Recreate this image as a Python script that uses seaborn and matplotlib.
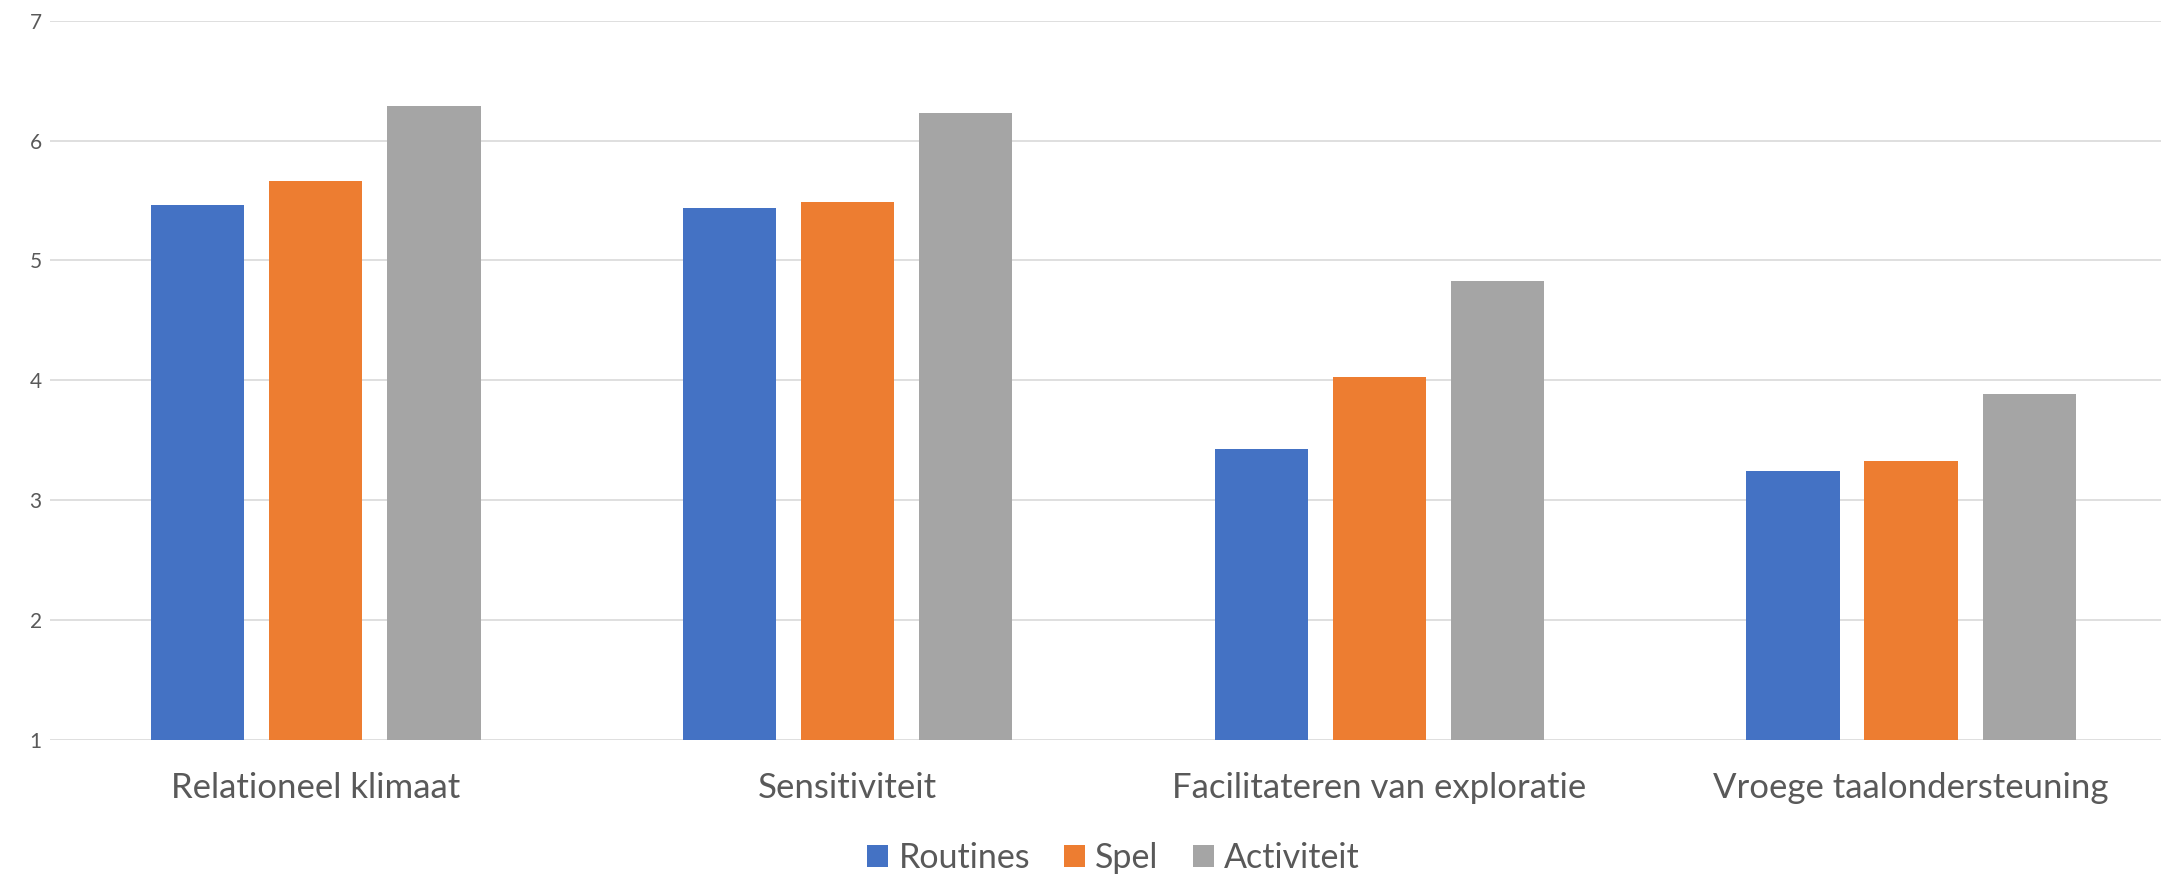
import matplotlib
matplotlib.use("Agg")
import matplotlib.pyplot as plt
import seaborn as sns
import pandas as pd

categories = ["Relationeel klimaat", "Sensitiviteit", "Facilitateren van exploratie", "Vroege taalondersteuning"]
series_names = ["Routines", "Spel", "Activiteit"]
routines = [5.46, 5.44, 3.43, 3.24]
spel = [5.66, 5.49, 4.03, 3.33]
activiteit = [6.29, 6.23, 4.83, 3.89]
y_ticks = [1, 2, 3, 4, 5, 6, 7]

colors = ["#4472C4", "#ED7D31", "#A5A5A5"]

rows = []
for name, vals in zip(series_names, [routines, spel, activiteit]):
    for c, v in zip(categories, vals):
        rows.append({"cat": c, "serie": name, "val": v})
df = pd.DataFrame(rows)

sns.set_theme(style="white")
plt.rcParams["font.family"] = ["Lato", "DejaVu Sans"]

W, H = 2161, 877
fig = plt.figure(figsize=(W / 100, H / 100), dpi=100)
ax_left = 50 / W
ax_bottom = (H - 740) / H
ax_top = (H - 20.7) / H
ax = fig.add_axes([ax_left, ax_bottom, 1 - ax_left, ax_top - ax_bottom])

sns.barplot(data=df, x="cat", y="val", hue="serie", order=categories,
            hue_order=series_names, palette=colors, width=0.666, gap=0.21,
            ax=ax, legend=True, saturation=1, linewidth=0)

ax.set_ylim(1, 7)
ax.set_yticks(y_ticks)
ax.set_xlim(-0.5, 3.47)
ax.set_xlabel("")
ax.set_ylabel("")
ax.grid(axis="y", color="#D9D9D9", linewidth=1.2)
ax.set_axisbelow(True)
for s in ax.spines.values():
    s.set_visible(False)
ax.tick_params(axis="x", length=0, pad=23, labelsize=25, labelcolor="#595959")
ax.tick_params(axis="y", length=0, pad=6, labelsize=15, labelcolor="#595959")

handles, labels = ax.get_legend_handles_labels()
ax.get_legend().remove()
fig.legend(handles, labels, loc="center", bbox_to_anchor=((50 + 2177) / 2 / W, (H - 858) / H),
           ncol=3, frameon=False, fontsize=24.5, labelcolor="#595959",
           handlelength=0.62, handleheight=0.62, handletextpad=0.3, columnspacing=1.0)

fig.savefig("out.png", dpi=100)
